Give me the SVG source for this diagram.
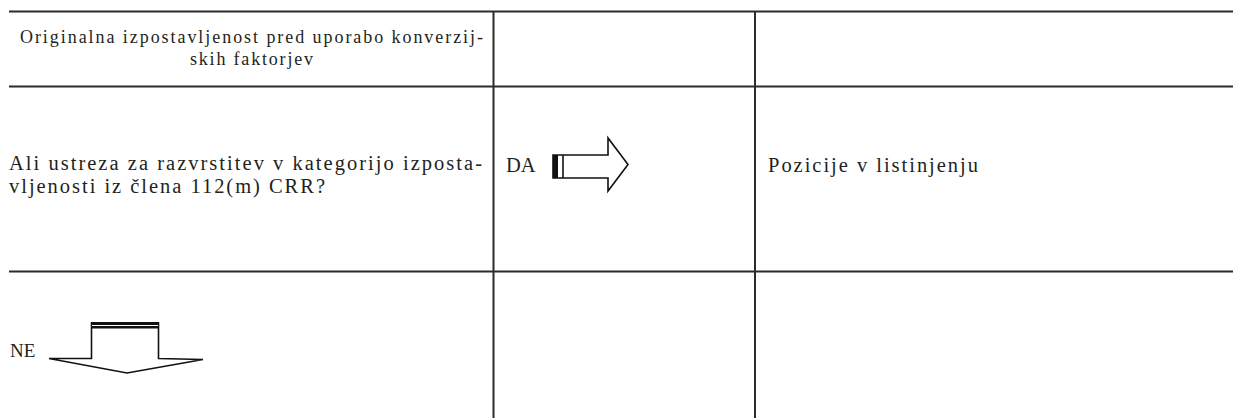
<svg xmlns="http://www.w3.org/2000/svg" width="1235" height="418" viewBox="0 0 1235 418">
<style>
.grid{stroke:#2b2b2b;stroke-width:2;fill:none}
.t{font-family:"Liberation Serif","Times New Roman",serif;fill:#231f20}
.h{font-size:18px}
.b{font-size:20.5px}
.ar{fill:#fff;stroke:#111;stroke-width:1.6;stroke-linejoin:miter}
</style>
<rect width="1235" height="418" fill="#fff"/>
<g id="grid" class="grid">
<line x1="9" y1="11.5" x2="1233" y2="11.5"/>
<line x1="9" y1="86.5" x2="1233" y2="86.5"/>
<line x1="9" y1="271.5" x2="1233" y2="271.5"/>
<line x1="493.5" y1="11" x2="493.5" y2="418"/>
<line x1="755" y1="11" x2="755" y2="418"/>
</g>
<g id="header">
<text class="t h" x="20" y="42.5" textLength="463" lengthAdjust="spacing">Originalna izpostavljenost pred uporabo konverzij-</text>
<text class="t h" x="190" y="64.5" textLength="123" lengthAdjust="spacing">skih faktorjev</text>
</g>
<g id="question">
<text class="t b" x="9" y="169.5" textLength="473" lengthAdjust="spacing">Ali ustreza za razvrstitev v kategorijo izposta-</text>
<text class="t b" x="9" y="192.5" textLength="316" lengthAdjust="spacing">vljenosti iz člena 112(m) CRR?</text>
</g>
<g id="yes">
<text class="t b" x="506" y="172">DA</text>
<polygon class="ar" points="553,155 608,155 608,138 628,164.5 608,191 608,178 553,178"/>
<rect x="553" y="155" width="5" height="23" fill="#111"/>
<line x1="563" y1="155" x2="563" y2="178" stroke="#111" stroke-width="1.6"/>
</g>
<g id="result">
<text class="t b" x="768" y="172" textLength="210" lengthAdjust="spacing">Pozicije v listinjenju</text>
</g>
<g id="no">
<text class="t" x="10" y="357" font-size="19">NE</text>
<polygon class="ar" points="91.5,323 158.5,323 158.5,358.5 203,359.5 127,373 49,358.5 91.5,358.5" stroke-width="2"/>
<rect x="91" y="322" width="68" height="6.5" fill="#111"/>
<line x1="92" y1="325.5" x2="158" y2="325.5" stroke="#fff" stroke-width="1"/>
</g>
</svg>
